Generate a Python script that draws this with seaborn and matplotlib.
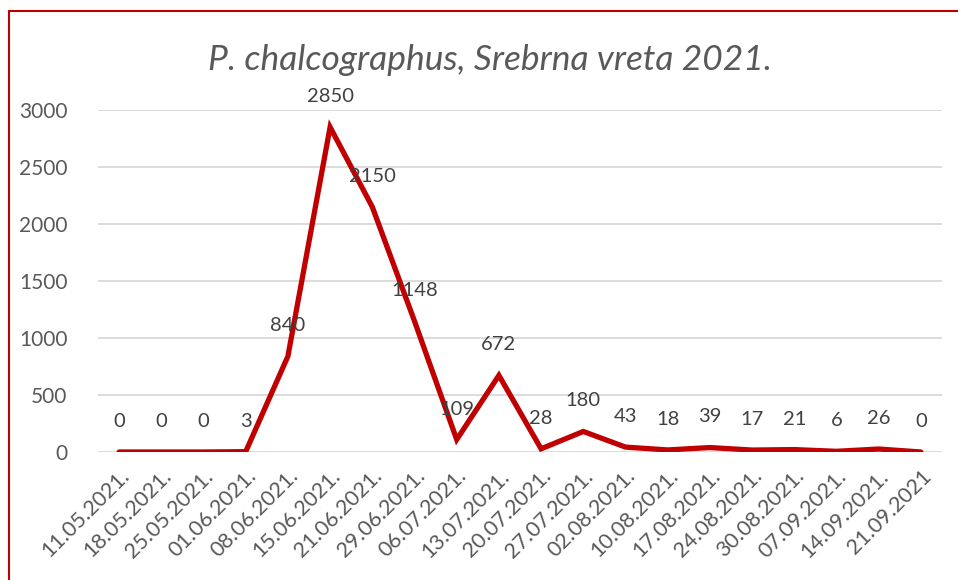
import matplotlib
matplotlib.use("Agg")
import matplotlib.pyplot as plt
from matplotlib.lines import Line2D
import seaborn as sns
import pandas as pd

# Data
dates = ['11.05.2021.', '18.05.2021.', '25.05.2021.', '01.06.2021.', '08.06.2021.',
         '15.06.2021.', '21.06.2021.', '29.06.2021.', '06.07.2021.', '13.07.2021.',
         '20.07.2021.', '27.07.2021.', '02.08.2021.', '10.08.2021.', '17.08.2021.',
         '24.08.2021.', '30.08.2021.', '07.09.2021.', '14.09.2021.', '21.09.2021']
counts = [0, 0, 0, 3, 840, 2850, 2150, 1148, 109, 672,
          28, 180, 43, 18, 39, 17, 21, 6, 26, 0]
title = 'P. chalcographus, Srebrna vreta 2021.'

df = pd.DataFrame({'datum': dates, 'broj': counts})
df['pos'] = range(len(df))

sns.set_style('white')
plt.rcParams['font.family'] = ['Lato', 'DejaVu Sans']
text_col = '#595959'
red = '#C00000'

fig = plt.figure(figsize=(9.58, 5.8), dpi=100)
ax = fig.add_axes([0.1023, 0.2207, 0.8810, 0.5896])

sns.lineplot(data=df, x='pos', y='broj', color=red, linewidth=3.8,
             sort=False, ax=ax, solid_capstyle='round', solid_joinstyle='miter')

for x, v in zip(df['pos'], df['broj']):
    ax.annotate(str(v), (x, v), xytext=(0, 22), textcoords='offset points',
                ha='center', va='center', fontsize=14.5, color='#404040')

ax.set_xlim(-0.5, len(dates) - 0.5)
ax.set_ylim(0, 3000)
ax.set_yticks(range(0, 3001, 500))
ax.set_xticks(df['pos'])
ax.set_xticklabels(dates, rotation=45, ha='right', rotation_mode='anchor')
ax.tick_params(axis='y', length=0, pad=22, labelsize=15, labelcolor=text_col)
ax.tick_params(axis='x', length=0, pad=10, labelsize=15.5, labelcolor=text_col)
ax.set_xlabel('')
ax.set_ylabel('')
ax.yaxis.grid(True, color='#D9D9D9', linewidth=1.3)
ax.set_axisbelow(True)
for s in ax.spines.values():
    s.set_visible(False)

fig.text(0.512, 0.897, title, ha='center', va='center', fontsize=25.5,
         style='italic', color=text_col)

# red frame (left and top edges visible)
fig.add_artist(Line2D([0.0094, 0.0094], [0, 0.981], color=red, linewidth=1.5))
fig.add_artist(Line2D([0.0094, 1.0], [0.981, 0.981], color=red, linewidth=1.5))

fig.savefig('out.png', dpi=100)
